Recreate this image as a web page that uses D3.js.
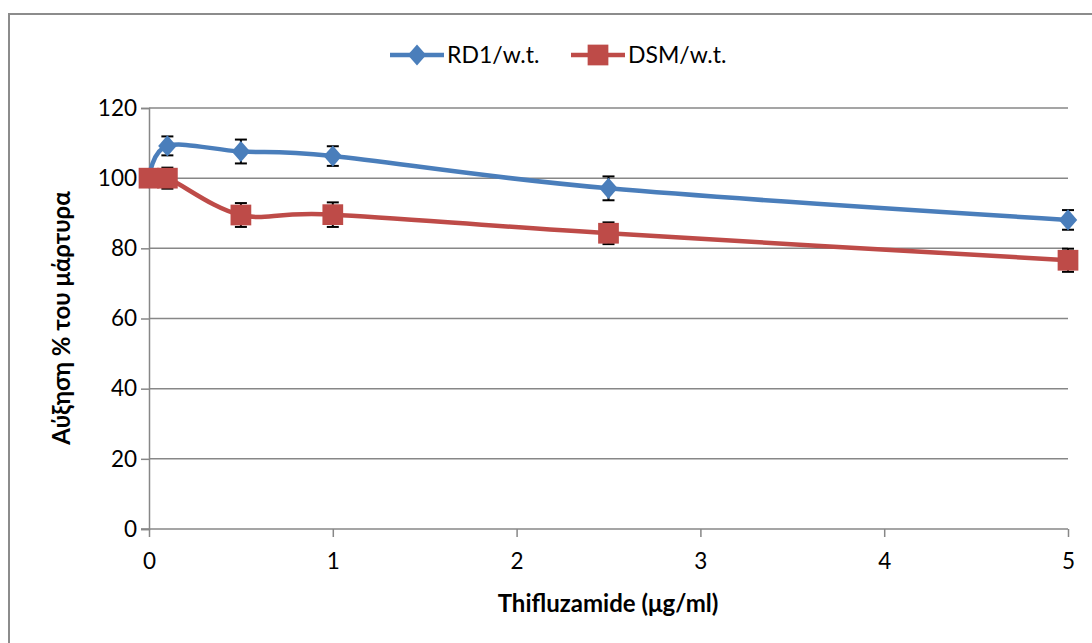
<!DOCTYPE html>
<html>
<head>
<meta charset="utf-8">
<script src="https://cdn.jsdelivr.net/npm/d3@7"></script>
<style>
  body { margin: 0; background: #fff; }
  svg { font-family: Lato, "Open Sans", sans-serif; }
</style>
</head>
<body>
<svg width="1092" height="643"></svg>
<script>
const doses = [0, 0.1, 0.5, 1, 2.5, 5];
const rd1 = [100, 109.2, 107.6, 106.3, 97.1, 88.1];
const rd1Err = [0, 2.7, 3.4, 2.8, 3.4, 2.8];
const dsm = [100, 100, 89.5, 89.6, 84.3, 76.6];
const dsmErr = [0, 3, 3.4, 3.5, 3.1, 3.3];
const xTicks = [0, 1, 2, 3, 4, 5];
const yTicks = [0, 20, 40, 60, 80, 100, 120];

const svg = d3.select("svg");

// outer chart border
svg.append("rect")
  .attr("x", 9).attr("y", 14).attr("width", 1090).attr("height", 640)
  .attr("fill", "none").attr("stroke", "#8c8c8c").attr("stroke-width", 2);

const x = d3.scaleLinear().domain([0, 5]).range([149, 1068]);
const y = d3.scaleLinear().domain([0, 120]).range([529, 108]);
const grey = "#878787";

// gridlines
svg.append("g")
  .selectAll("line")
  .data(yTicks.filter(d => d > 0))
  .enter().append("line")
  .attr("x1", x(0)).attr("x2", x(5))
  .attr("y1", d => y(d)).attr("y2", d => y(d))
  .attr("stroke", grey).attr("stroke-width", 1.5);

// y axis
const yAxis = svg.append("g")
  .attr("transform", `translate(${x(0)},0)`)
  .call(d3.axisLeft(y).tickValues(yTicks).tickSize(8).tickPadding(4))
  .attr("font-family", null);
yAxis.select(".domain").attr("stroke", grey).attr("stroke-width", 1.5);
yAxis.selectAll(".tick line").attr("stroke", grey).attr("stroke-width", 1.5);
yAxis.selectAll("text").attr("font-size", 22.5).attr("fill", "#000");

// x axis
const xAxis = svg.append("g")
  .attr("transform", `translate(0,${y(0)})`)
  .call(d3.axisBottom(x).tickValues(xTicks).tickFormat(d3.format("d"))
    .tickSize(8).tickPadding(16).tickSizeOuter(0))
  .attr("font-family", null);
xAxis.select(".domain").attr("stroke", grey).attr("stroke-width", 1.5)
  .attr("d", `M${x(0) - 8},0H${x(5)}`);
xAxis.selectAll(".tick line").attr("stroke", grey).attr("stroke-width", 1.5);
xAxis.selectAll("text").attr("font-size", 22.5).attr("fill", "#000");

// axis titles
svg.append("text")
  .attr("x", 608).attr("y", 612)
  .attr("text-anchor", "middle")
  .attr("font-size", 24).attr("font-weight", "bold")
  .text("Thifluzamide (μg/ml)");

svg.append("text")
  .attr("transform", "translate(70,318) rotate(-90)")
  .attr("text-anchor", "middle")
  .attr("font-size", 24).attr("font-weight", "bold")
  .text("Αύξηση % του μάρτυρα");

// Excel-style diamond, nearly square when rotated
const diamond = {
  draw(ctx, size) {
    const w = Math.sqrt(size) / 2, h = w * 1.15;
    ctx.moveTo(0, -h); ctx.lineTo(w, 0); ctx.lineTo(0, h); ctx.lineTo(-w, 0); ctx.closePath();
  }
};

const series = [
  { name: "RD1/w.t.", values: rd1, err: rd1Err, color: "#4a7ebb", shape: diamond, size: 340 },
  { name: "DSM/w.t.", values: dsm, err: dsmErr, color: "#be4b48", shape: d3.symbolSquare, size: 430 }
];

const line = d3.line()
  .x(d => x(d[0]))
  .y(d => y(d[1]))
  .curve(d3.curveCatmullRom.alpha(0));

series.forEach(s => {
  const pts = doses.map((d, i) => [d, s.values[i], s.err[i]]);
  svg.append("path")
    .datum(pts)
    .attr("d", line)
    .attr("fill", "none")
    .attr("stroke", s.color)
    .attr("stroke-width", 4.5);

  // error bars sit behind the markers
  const eb = svg.append("g").attr("stroke", "#000").attr("stroke-width", 2);
  pts.filter(d => d[2] > 0).forEach(d => {
    const cx = x(d[0]);
    eb.append("line").attr("x1", cx).attr("x2", cx)
      .attr("y1", y(d[1] + d[2])).attr("y2", y(d[1] - d[2]));
    [d[1] + d[2], d[1] - d[2]].forEach(v => {
      eb.append("line").attr("x1", cx - 6).attr("x2", cx + 6)
        .attr("y1", y(v)).attr("y2", y(v));
    });
  });

  svg.append("g")
    .selectAll("path")
    .data(pts)
    .enter().append("path")
    .attr("transform", d => `translate(${x(d[0])},${y(d[1])})`)
    .attr("d", d3.symbol().type(s.shape).size(s.size))
    .attr("fill", s.color);
});

// legend
const legendPos = [390, 571];
series.forEach((s, i) => {
  const g = svg.append("g").attr("transform", `translate(${legendPos[i]},55)`);
  g.append("line").attr("x1", 0).attr("x2", 54)
    .attr("stroke", s.color).attr("stroke-width", 4.5);
  g.append("path").attr("transform", "translate(27,0)")
    .attr("d", d3.symbol().type(s.shape).size(s.size)).attr("fill", s.color);
  g.append("text").attr("x", 57).attr("y", 0).attr("dy", "0.35em")
    .attr("font-size", 23).text(s.name);
});
</script>
</body>
</html>
